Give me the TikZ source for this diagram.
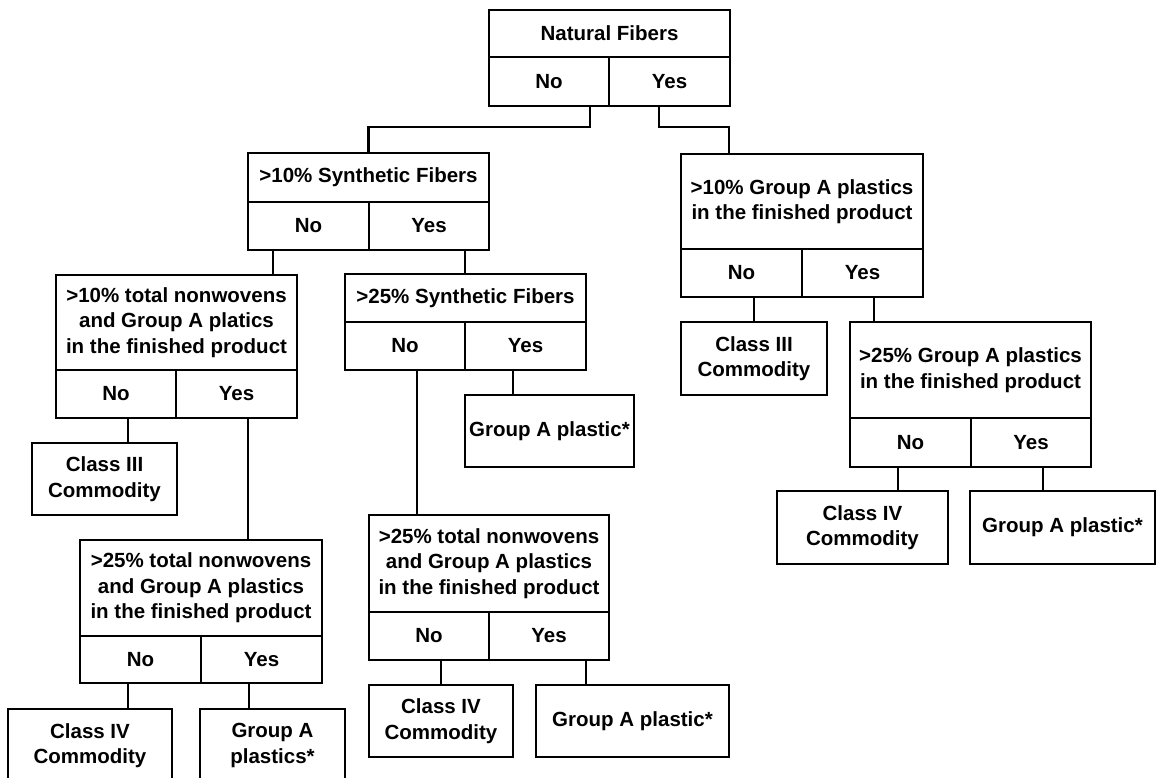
\documentclass[tikz,border=0pt]{standalone}
\usepackage{fontspec}
\setmainfont{Liberation Sans}
\begin{document}
\begin{tikzpicture}[x=1pt,y=-1pt,
  bx/.style={draw, line width=2.1pt, anchor=north west, inner sep=0pt, outer sep=0pt, align=center,
    font=\fontsize{20.5}{25.5}\selectfont\bfseries},
  ln/.style={line width=2.1pt}]
\useasboundingbox (0,0) rectangle (1156,778);
\clip (0,0) rectangle (1156,778);
% decision boxes
% A Natural Fibers
\node[bx, minimum width=241pt, minimum height=47pt] (A) at (489,10) {Natural Fibers};
\node[bx, minimum width=120pt, minimum height=49pt] (An) at (489,57) {No};
\node[bx, minimum width=121pt, minimum height=49pt] (Ay) at (609,57) {Yes};
% B >10% Synthetic
\node[bx, minimum width=241pt, minimum height=49pt] (B) at (248,153) {>10\% Synthetic Fibers};
\node[bx, minimum width=121pt, minimum height=48pt] (Bn) at (248,202) {No};
\node[bx, minimum width=120pt, minimum height=48pt] (By) at (369,202) {Yes};
% C >10% Group A
\node[bx, minimum width=242pt, minimum height=95pt] (C) at (681,154) {>10\% Group A plastics\\in the finished product};
\node[bx, minimum width=121pt, minimum height=48pt] (Cn) at (681,249) {No};
\node[bx, minimum width=121pt, minimum height=48pt] (Cy) at (802,249) {Yes};
% D >10% total nonwovens
\node[bx, minimum width=241pt, minimum height=95pt] (D) at (56,275) {>10\% total nonwovens\\and Group A platics\\in the finished product};
\node[bx, minimum width=120pt, minimum height=48pt] (Dn) at (56,370) {No};
\node[bx, minimum width=121pt, minimum height=48pt] (Dy) at (176,370) {Yes};
% E >25% Synthetic
\node[bx, minimum width=241pt, minimum height=48pt] (E) at (345,274) {>25\% Synthetic Fibers};
\node[bx, minimum width=120pt, minimum height=48pt] (En) at (345,322) {No};
\node[bx, minimum width=121pt, minimum height=48pt] (Ey) at (465,322) {Yes};
% F >25% Group A
\node[bx, minimum width=241pt, minimum height=96pt] (F) at (850,322) {>25\% Group A plastics\\in the finished product};
\node[bx, minimum width=121pt, minimum height=49pt] (Fn) at (850,418) {No};
\node[bx, minimum width=120pt, minimum height=49pt] (Fy) at (971,418) {Yes};
% G >25% total nonwovens (left)
\node[bx, minimum width=242pt, minimum height=96pt] (G) at (80,540) {>25\% total nonwovens\\and Group A plastics\\in the finished product};
\node[bx, minimum width=121pt, minimum height=47pt] (Gn) at (80,636) {No};
\node[bx, minimum width=121pt, minimum height=47pt] (Gy) at (201,636) {Yes};
% H >25% total nonwovens (middle)
\node[bx, minimum width=240pt, minimum height=97pt] (H) at (369,515) {>25\% total nonwovens\\and Group A plastics\\in the finished product};
\node[bx, minimum width=120pt, minimum height=48pt] (Hn) at (369,612) {No};
\node[bx, minimum width=120pt, minimum height=48pt] (Hy) at (489,612) {Yes};
% leaves
\node[bx, minimum width=145pt, minimum height=72pt] (L1) at (32,443) {Class III\\Commodity};
\node[bx, minimum width=164pt, minimum height=73pt] (L2) at (8,709) {Class IV\\Commodity};
\node[bx, minimum width=145pt, minimum height=73pt] (L3) at (200,709) {Group A\\plastics*};
\node[bx, minimum width=169pt, minimum height=72pt] (L4) at (465,395) {Group A plastic*};
\node[bx, minimum width=144pt, minimum height=72pt] (L5) at (369,685) {Class IV\\Commodity};
\node[bx, minimum width=193pt, minimum height=72pt] (L6) at (536,685) {Group A plastic*};
\node[bx, minimum width=146pt, minimum height=73pt] (L7) at (681,322) {Class III\\Commodity};
\node[bx, minimum width=171pt, minimum height=73pt] (L8) at (777,491) {Class IV\\Commodity};
\node[bx, minimum width=185pt, minimum height=73pt] (L9) at (970,491) {Group A plastic*};
% connectors
\draw[ln] ([xshift=41pt]An.south) -- ++(0,21) -| (B.north);
\draw[ln] ([xshift=-10.5pt]Ay.south) -- ++(0,21) -| ([xshift=-73pt]C.north);
\draw[ln] ([xshift=-35.5pt]Bn.south) coordinate (b1) -- (b1 |- D.north);
\draw[ln] ([xshift=36pt]By.south) coordinate (b2) -- (b2 |- E.north);
\draw[ln] ([xshift=12.5pt]Cn.south) coordinate (c1) -- (c1 |- L7.north);
\draw[ln] ([xshift=11.5pt]Cy.south) coordinate (c2) -- (c2 |- F.north);
\draw[ln] ([xshift=12pt]Dn.south) coordinate (d1) -- (d1 |- L1.north);
\draw[ln] ([xshift=11.5pt]Dy.south) coordinate (d2) -- (d2 |- G.north);
\draw[ln] ([xshift=12pt]En.south) coordinate (e1) -- (e1 |- H.north);
\draw[ln] ([xshift=-12.5pt]Ey.south) coordinate (e2) -- (e2 |- L4.north);
\draw[ln] ([xshift=-12.5pt]Fn.south) coordinate (f1) -- (f1 |- L8.north);
\draw[ln] ([xshift=12pt]Fy.south) coordinate (f2) -- (f2 |- L9.north);
\draw[ln] ([xshift=-12.5pt]Gn.south) coordinate (g1) -- (g1 |- L2.north);
\draw[ln] ([xshift=-12.5pt]Gy.south) coordinate (g2) -- (g2 |- L3.north);
\draw[ln] ([xshift=12pt]Hn.south) coordinate (h1) -- (h1 |- L5.north);
\draw[ln] ([xshift=37pt]Hy.south) coordinate (h2) -- (h2 |- L6.north);
\end{tikzpicture}
\end{document}
